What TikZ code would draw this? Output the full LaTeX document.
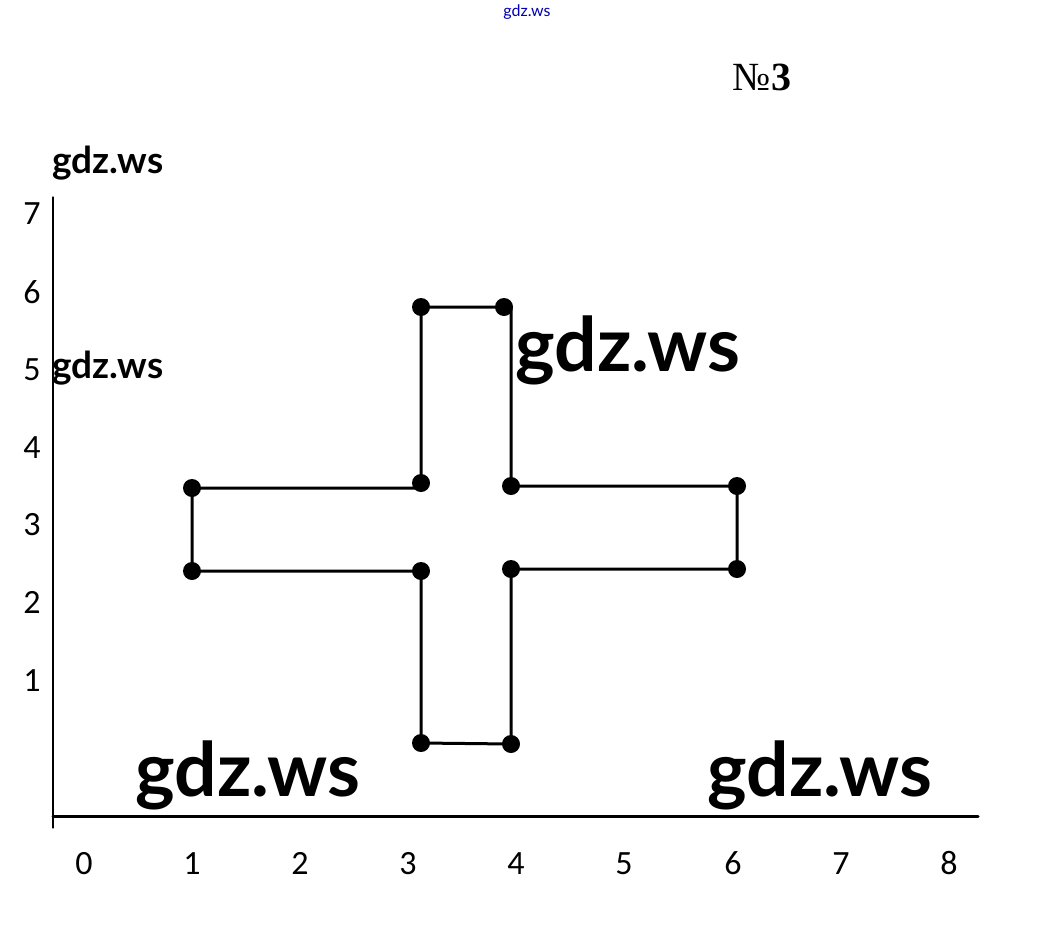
\documentclass[tikz,border=0pt]{standalone}
\usepackage{fontspec}
\setmainfont{Lato}
\newfontfamily\numfont{Carlito}
\newfontfamily\serfont{Liberation Serif}
\begin{document}
\begin{tikzpicture}[x=1pt,y=-1pt,line join=round,line cap=round,thick]
		\tikzset{dot/.style={circle,fill=black,inner sep=0pt,minimum size=18pt},
			num/.style={font=\numfont\fontsize{34}{34}\selectfont,text height=23pt,text depth=0pt},
			mark text/.style={font=\bfseries\fontsize{37}{37}\selectfont},
			big text/.style={font=\bfseries\fontsize{75}{75}\selectfont}}
		\useasboundingbox (0,0) rectangle (1054,937);
		% axes
		\draw[line width=1.2pt] (53,197)--(53,828);
		\draw[line width=3pt] (53,816)--(978,816);
		\foreach \k/\y in {7/213,6/292,5/369,4/447,3/524,2/602,1/680}
			\node[num] (y\k) at (32,\y) {\k};
		\foreach \k/\x in {0/84,1/192,2/300,3/408,4/516,5/624,6/733,7/841,8/949}
			\node[num] (x\k) at (\x,863) {\k};
		% points of the cross
		\node[dot] (a) at (192,488) {};
		\node[dot] (b) at (192,571) {};
		\node[dot] (c) at (421,571) {};
		\node[dot] (d) at (421,743) {};
		\node[dot] (e) at (511,744) {};
		\node[dot] (f) at (511,569) {};
		\node[dot] (g) at (737,569) {};
		\node[dot] (h) at (737,486) {};
		\node[dot] (i) at (511,486) {};
		\node[dot] (j) at (504,307) {};
		\node[dot] (k) at (421,307) {};
		\node[dot] (l) at (421,483) {};
		\draw[line width=3pt] (a.center)--(b.center)--(c.center)--(c.center|-d.center)--(e.center)--(f.center)--(g.center)--(h.center)--(i.center)--(i.center|-j.center)--(k.center)--(k.center|-a.center)--(a.center);
		% texts
		\node[font=\fontsize{16}{16}\selectfont,text=blue!70!black] (top) at (527,12) {gdz.ws};
		\node[font=\serfont\fontsize{40}{40}\selectfont] (no) at (762,77) {№\textbf{3}};
		\node[mark text] (w1) at (108,163) {gdz.ws};
		\node[mark text] (w2) at (108,368) {gdz.ws};
		\node[big text] (w3) at (628,350) {gdz.ws};
		\node[big text] (w4) at (248,775) {gdz.ws};
		\node[big text] (w5) at (820,775) {gdz.ws};
\end{tikzpicture}
\end{document}
